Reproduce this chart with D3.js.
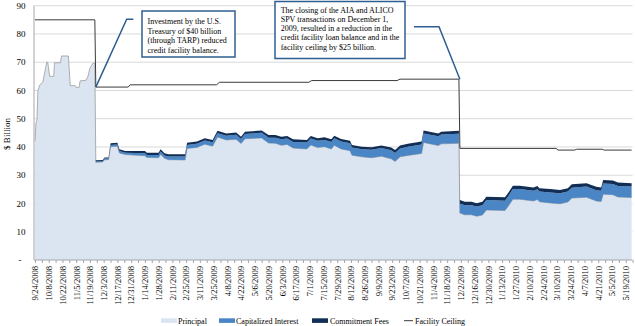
<!DOCTYPE html>
<html><head><meta charset="utf-8">
<script src="https://cdn.jsdelivr.net/npm/d3@7"></script>
<style>
body{margin:0;background:#fff}
svg{display:block}
text{font-family:"Liberation Serif","Times New Roman",serif;fill:#000}
</style>
</head><body>
<svg id="chart" width="635" height="326"></svg>
<script>
// ---------- DATA ----------
const dates = ["2008-09-24","2008-09-25","2008-09-26","2008-09-27","2008-09-29","2008-10-02","2008-10-06","2008-10-07","2008-10-09","2008-10-13","2008-10-14","2008-10-20","2008-10-21","2008-10-28","2008-10-30","2008-11-04","2008-11-05","2008-11-08","2008-11-09","2008-11-15","2008-11-17","2008-11-19","2008-11-22","2008-11-24","2008-11-25","2008-12-02","2008-12-04","2008-12-08","2008-12-10","2008-12-17","2008-12-19","2008-12-25","2009-01-14","2009-01-16","2009-01-28","2009-01-30","2009-02-03","2009-02-07","2009-02-24","2009-02-26","2009-03-08","2009-03-16","2009-03-24","2009-03-29","2009-04-07","2009-04-17","2009-04-22","2009-04-26","2009-05-13","2009-05-20","2009-05-27","2009-06-02","2009-06-08","2009-06-14","2009-06-28","2009-07-02","2009-07-09","2009-07-16","2009-07-23","2009-07-26","2009-08-02","2009-08-11","2009-08-13","2009-08-23","2009-09-02","2009-09-12","2009-09-22","2009-09-26","2009-10-01","2009-10-09","2009-10-23","2009-10-25","2009-11-09","2009-11-12","2009-11-30","2009-12-01","2009-12-06","2009-12-13","2009-12-18","2009-12-24","2009-12-28","2010-01-16","2010-01-19","2010-01-24","2010-01-31","2010-02-14","2010-02-18","2010-02-20","2010-03-03","2010-03-13","2010-03-21","2010-03-25","2010-04-09","2010-04-19","2010-04-24","2010-04-26","2010-05-06","2010-05-11","2010-05-25"];
const principal = [42,48.5,49.5,60,62,63,70,70,65,65,69.8,69.8,72.2,72.2,61.7,61.7,61.1,61.1,63.4,63.6,65,67.9,69.6,69.6,
  34.6,34.7,35.5,35.5,
  40.1,40.3,37.9,37.3,
  36.9,36.3,36.2,37.4,36.0,35.5,35.4,39.5,39.8,41.0,40.3,43.5,42.5,42.7,41.2,42.9,43.2,
  41.4,41.3,40.6,40.9,39.6,39.3,40.7,39.8,40.1,39.3,40.6,39.3,38.7,37.1,36.5,36.2,36.7,
  35.8,34.9,36.5,37.0,37.7,41.6,40.5,41.1,41.3,
  16.6,16.0,16.0,15.5,15.9,17.7,17.5,18.9,21.5,21.5,20.9,21.4,20.6,20.2,19.9,20.5,21.9,22.2,20.9,20.7,23.3,23.1,22.3,22.1];
const capitalizedInterest = [0,0,0,0,0,0,0,0,0,0,0,0,0,0,0,0,0,0,0,0,0,0,0,0,0.3,0.3,0.4,0.4,0.6,0.6,0.7,0.7,0.9,0.9,1.0,1.0,1.0,1.1,1.2,1.2,1.3,1.3,1.4,1.4,1.5,1.6,1.6,1.7,1.8,1.9,2.0,2.1,2.1,2.2,2.3,2.3,2.4,2.4,2.5,2.5,2.6,2.6,2.7,2.7,2.8,2.9,3.0,3.0,3.0,3.1,3.2,3.2,3.3,3.3,3.4,3.4,3.4,3.4,3.4,3.5,3.5,3.5,3.5,3.6,3.6,3.6,3.6,3.6,3.7,3.7,3.7,3.7,3.8,3.8,3.8,3.8,3.8,3.9,3.9];
const commitmentFees = [0,0,0,0,0,0,0,0,0,0,0,0,0,0,0,0,0,0,0,0,0,0,0,0,
  0.4,0.4,0.4,0.4,
  0.6,0.6,0.6,0.6,
  0.8,0.8,0.8,0.8,0.8,0.8,0.8,0.8,0.8,0.8,0.8,0.8,0.8,0.8,0.8,0.8,0.8,
  0.9,0.9,0.9,0.9,0.9,0.9,0.9,0.9,0.9,0.9,0.9,0.9,0.9,0.9,0.9,0.9,0.9,
  1.0,1.0,1.0,1.0,1.0,1.0,1.0,1.0,1.0,
  1.2,1.2,1.2,1.2,1.2,1.2,1.2,1.2,1.2,1.2,1.2,1.2,1.2,1.2,1.2,1.2,1.2,1.2,1.2,1.2,1.2,1.2,1.2,1.2];
const ceilingDates = ["2008-09-24","2008-11-24","2008-11-25","2008-12-28","2008-12-30","2009-03-28","2009-03-31","2009-06-30","2009-07-03","2009-09-28","2009-10-01","2009-11-30","2009-12-01","2010-03-09","2010-03-11","2010-03-28","2010-03-30","2010-04-25","2010-04-27","2010-05-25"];
const facilityCeiling = [85,85,61.2,61.2,62.0,62.0,62.9,62.9,63.5,63.5,64.0,64.0,39.5,39.5,38.9,38.9,39.2,39.2,38.9,38.9];
const xTickLabels = ["9/24/2008","10/8/2008","10/22/2008","11/5/2008","11/19/2008","12/3/2008","12/17/2008","12/31/2008","1/14/2009","1/28/2009","2/11/2009","2/25/2009","3/11/2009","3/25/2009","4/8/2009","4/22/2009","5/6/2009","5/20/2009","6/3/2009","6/17/2009","7/1/2009","7/15/2009","7/29/2009","8/12/2009","8/26/2009","9/9/2009","9/23/2009","10/7/2009","10/21/2009","11/4/2009","11/18/2009","12/2/2009","12/16/2009","12/30/2009","1/13/2010","1/27/2010","2/10/2010","2/24/2010","3/10/2010","3/24/2010","4/7/2010","4/21/2010","5/5/2010","5/19/2010"];
const yTickValues = [0,10,20,30,40,50,60,70,80,90];
const yTickLabels = ["-","10","20","30","40","50","60","70","80","90"];
const seriesNames = ["Principal","Capitalized Interest","Commitment Fees","Facility Ceiling"];
const annotation1 = ["Investment by the U.S.","Treasury of $40 billion","(through TARP) reduced","credit facility balance."];
const annotation2 = ["The closing of the AIA and ALICO","SPV transactions on December 1,","2009, resulted in a reduction in the","credit facility loan balance and in the","facility ceiling by $25 billion."];
const yAxisTitle = "$ Billion";

// ---------- STYLE ----------
const colors = {principal:"#dbe5f1", cap:"#4a86c6", fees:"#112f56", ceiling:"#3a3a3a", grid:"#d9d9d9", axis:"#a6a6a6", note:"#2e5e90"};

const parse = d3.utcParse("%Y-%m-%d");
const parseLabel = d3.utcParse("%m/%d/%Y");
const svg = d3.select("#chart");

const x = d3.scaleUtc().domain([parse("2008-09-23"), parse("2010-05-26")]).range([34, 632.6]);
const y = d3.scaleLinear().domain([0, 90]).range([260, 5.7]);

const rows = dates.map((d, i) => ({date: parse(d), principal: principal[i], cap: capitalizedInterest[i], fees: commitmentFees[i]}));
const stack = d3.stack().keys(["principal","cap","fees"])(rows);

// gridlines
svg.append("g").selectAll("line").data(yTickValues.filter(v => v > 0)).join("line")
  .attr("x1", 34).attr("x2", 632.6).attr("y1", d => y(d)).attr("y2", d => y(d))
  .attr("stroke", colors.grid).attr("stroke-width", 1);

const area = d3.area().x(d => x(d.data.date)).y0(d => y(d[0])).y1(d => y(d[1]));
const fills = [colors.principal, colors.cap, colors.fees];
svg.append("path").datum(stack[0]).attr("d", area).attr("fill", fills[0]);
svg.append("path").datum(stack[0])
  .attr("d", d3.line().x(d => x(d.data.date)).y(d => y(d[1])))
  .attr("fill", "none").attr("stroke", "#9c9c9c").attr("stroke-width", 0.8);
svg.append("path").datum(stack[1]).attr("d", area).attr("fill", fills[1]);
svg.append("path").datum(stack[2]).attr("d", area).attr("fill", fills[2]);

// facility ceiling
const ceilRows = ceilingDates.map((d, i) => ({date: parse(d), v: facilityCeiling[i]}));
svg.append("path").datum(ceilRows)
  .attr("d", d3.line().x(d => x(d.date)).y(d => y(d.v)))
  .attr("fill", "none").attr("stroke", colors.ceiling).attr("stroke-width", 1);

// y axis line
svg.append("line").attr("x1", 34).attr("x2", 34).attr("y1", y(90)).attr("y2", 260)
  .attr("stroke", colors.axis).attr("stroke-width", 1);

// y tick labels
svg.append("g").selectAll("text").data(yTickValues).join("text")
  .attr("x", (d, i) => yTickLabels[i] === "-" ? 21.5 : 25.5)
  .attr("y", d => y(d)).attr("dy", "0.35em")
  .attr("text-anchor", "end").attr("font-size", 9)
  .text((d, i) => yTickLabels[i]);

// x axis: weekly ticks
const start = parse("2008-09-24");
const weekly = d3.range(0, 88).map(i => d3.utcDay.offset(start, 7 * i));
const gx = svg.append("g").attr("transform", "translate(0,260)");
gx.call(d3.axisBottom(x).tickValues(weekly).tickSize(3).tickFormat(""));
gx.select(".domain").attr("stroke", colors.axis).attr("d", "M34,0H632.6");
gx.selectAll(".tick line").attr("stroke", colors.axis);

const labelDates = xTickLabels.map(s => parseLabel(s));
const gl = svg.append("g").attr("transform", "translate(0,260)");
gl.call(d3.axisBottom(x).tickValues(labelDates).tickSize(0).tickFormat((d, i) => xTickLabels[i]));
gl.select(".domain").remove();
gl.selectAll(".tick text")
  .attr("transform", "rotate(-90)")
  .attr("x", -6).attr("y", 0).attr("dy", "0.33em")
  .attr("text-anchor", "end")
  .attr("font-size", 8.5)
  .attr("font-family", '"Liberation Serif", serif')
  .attr("fill", "#000");

// y axis title
svg.append("text").attr("transform", "translate(10,134) rotate(-90)")
  .attr("text-anchor", "middle").attr("font-size", 9).text(yAxisTitle);

// annotations
function noteBox(bx, by, bw, bh, lines, tx, ty, lh) {
  svg.append("rect").attr("x", bx).attr("y", by).attr("width", bw).attr("height", bh)
    .attr("fill", "#fff").attr("stroke", colors.note).attr("stroke-width", 1.5);
  const t = svg.append("text").attr("font-size", 8);
  lines.forEach((l, i) => t.append("tspan").attr("x", tx).attr("y", ty + i * lh).text(l));
}
// connector 1
svg.append("path")
  .attr("d", d3.line()([[x(parse("2008-11-25")), y(facilityCeiling[2])], [126.7, 19.3], [133.3, 19.3]]))
  .attr("fill", "none").attr("stroke", colors.note).attr("stroke-width", 1.5);
noteBox(142, 11, 93, 46, annotation1, 147.5, 24, 9.5);
// connector 2
svg.append("path")
  .attr("d", d3.line()([[414, 26.7], [439, 26.7], [x(parse("2009-12-01")), y(facilityCeiling[11])]]))
  .attr("fill", "none").attr("stroke", colors.note).attr("stroke-width", 1.5);
noteBox(275, 1.5, 130, 57, annotation2, 280.7, 12.5, 9.3);

// legend
const lg = svg.append("g").attr("font-size", 8);
const items = [
  {name: seriesNames[0], type: "rect", c: colors.principal, sx: 161, tx: 178},
  {name: seriesNames[1], type: "rect", c: colors.cap, sx: 219, tx: 236},
  {name: seriesNames[2], type: "rect", c: colors.fees, sx: 312, tx: 330},
  {name: seriesNames[3], type: "line", c: colors.ceiling, sx: 404, tx: 415}
];
items.forEach(it => {
  if (it.type === "rect") {
    lg.append("rect").attr("x", it.sx).attr("y", 318.3).attr("width", 16).attr("height", 4.6).attr("fill", it.c);
  } else {
    lg.append("line").attr("x1", it.sx).attr("x2", it.sx + 9).attr("y1", 320.7).attr("y2", 320.7)
      .attr("stroke", it.c).attr("stroke-width", 1);
  }
  lg.append("text").attr("x", it.tx).attr("y", 323.5).text(it.name);
});
</script>
</body></html>
